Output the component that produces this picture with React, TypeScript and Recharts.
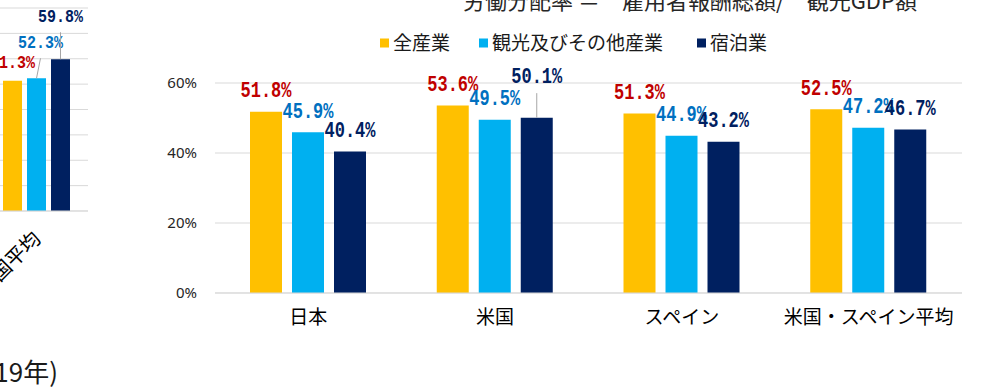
import { BarChart, Bar, XAxis, YAxis, CartesianGrid, LabelList } from 'recharts'

// main chart: labour share by region
const regions = ['日本', '米国', 'スペイン', '米国・スペイン平均']
const allIndustry = [51.8, 53.6, 51.3, 52.5]
const tourism = [45.9, 49.5, 44.9, 47.2]
const lodging = [40.4, 50.1, 43.2, 46.7]
const mainTicks = [0, 20, 40, 60]

// left chart (cut off by the page edge, only its last group is visible)
const leftRegions = ['主要国平均']
const leftAllIndustry = [51.3]
const leftTourism = [52.3]
const leftLodging = [59.8]
const leftTicks = [0, 10, 20, 30, 40, 50, 60, 70, 80]

const seriesNames = ['全産業', '観光及びその他産業', '宿泊業']
const title = '労働分配率 ＝　雇用者報酬総額/　観光GDP額'
const yearNote = '(2019年)'

const barColors = ['#FFC000', '#00B0F0', '#002060']
const labelColors = ['#C00000', '#0070C0', '#002060']
const gridColor = '#D9D9D9'
const jpFont = '"Noto Sans CJK JP", "Noto Sans", sans-serif'

type LabelStyle = {
  color: string
  fontSize: number
  textWidth: number
  gap: number
  lift?: number[]
  shift?: number[]
}

const valueLabel = (s: LabelStyle) => (props: any) => {
  const { x, y, width, value, index } = props
  const cx = Number(x) + Number(width) / 2
  const lift = s.lift?.[index] ?? 0
  const tx = cx + (s.shift?.[index] ?? 0)
  const base = Number(y) - s.gap - lift
  return (
    <g>
      {lift > 0 && (
        <line x1={tx} y1={base + 10} x2={cx} y2={Number(y)} stroke="#A6A6A6" strokeWidth={1} />
      )}
      <text
        x={tx}
        y={base}
        textAnchor="middle"
        fill={s.color}
        fontSize={s.fontSize}
        fontFamily='"Liberation Mono", monospace'
        fontWeight="bold"
        textLength={s.textWidth}
        lengthAdjust="spacingAndGlyphs"
      >
        {`${Number(value).toFixed(1)}%`}
      </text>
    </g>
  )
}

const RotatedTick = (props: any) => {
  const { x, y, payload } = props
  return (
    <g transform={`translate(${x + 6},${y})`}>
      <text textAnchor="end" transform="rotate(-45)" fontSize={20} fontFamily={jpFont} fill="#000">
        {payload.value}
      </text>
    </g>
  )
}

export default function App() {
  const mainData = regions.map((name, i) => ({
    name,
    all: allIndustry[i],
    tourism: tourism[i],
    lodging: lodging[i],
  }))
  const leftData = leftRegions.map((name, i) => ({
    name,
    all: leftAllIndustry[i],
    tourism: leftTourism[i],
    lodging: leftLodging[i],
  }))
  const keys = ['all', 'tourism', 'lodging']

  const mainLabels: LabelStyle[] = [
    { color: labelColors[0], fontSize: 22, textWidth: 51, gap: 14.5 },
    { color: labelColors[1], fontSize: 22, textWidth: 51, gap: 14.5 },
    { color: labelColors[2], fontSize: 22, textWidth: 51, gap: 14.5, lift: [0, 20, 0, 0] },
  ]
  const leftLabels: LabelStyle[] = [
    { color: labelColors[0], fontSize: 19, textWidth: 45, gap: 13 },
    { color: labelColors[1], fontSize: 19, textWidth: 45, gap: 13, lift: [17], shift: [4] },
    { color: labelColors[2], fontSize: 19, textWidth: 45, gap: 13, lift: [24] },
  ]

  const legendX = [380, 479, 697]

  return (
    <div
      style={{
        position: 'absolute',
        left: 0,
        top: 0,
        width: 1002,
        height: 390,
        overflow: 'hidden',
        background: '#fff',
      }}
    >
      <svg width={1002} height={390} style={{ position: 'absolute', left: 0, top: 0 }}>
        <text x={690} y={9} textAnchor="middle" fontSize={22} fontFamily={jpFont} fill="#262626">
          {title}
        </text>
        {seriesNames.map((n, i) => (
          <g key={n}>
            <rect x={legendX[i]} y={38.5} width={9} height={9} fill={barColors[i]} />
            <text x={legendX[i] + 13} y={50} fontSize={19} fontFamily={jpFont} fill="#1a1a1a">
              {n}
            </text>
          </g>
        ))}
        <text x={58} y={382} textAnchor="end" fontSize={26} fontFamily={jpFont} fill="#1a1a1a">
          {yearNote}
        </text>
      </svg>

      <div style={{ position: 'absolute', left: -16, top: 0 }}>
        <BarChart
          width={104}
          height={291}
          data={leftData}
          margin={{ top: 8, right: 0, left: 0, bottom: 0 }}
          barSize={19}
          barGap={5}
          style={{ overflow: 'visible' }}
        >
          <CartesianGrid vertical={false} stroke={gridColor} />
          <XAxis
            dataKey="name"
            axisLine={{ stroke: gridColor }}
            tickLine={false}
            tickSize={0}
            tickMargin={29}
            height={80}
            interval={0}
            tick={<RotatedTick />}
          />
          <YAxis hide domain={[0, 80]} ticks={leftTicks} />
          {keys.map((k, i) => (
            <Bar key={k} dataKey={k} fill={barColors[i]} isAnimationActive={false}>
              <LabelList dataKey={k} content={valueLabel(leftLabels[i])} />
            </Bar>
          ))}
        </BarChart>
      </div>

      <div style={{ position: 'absolute', left: 140, top: 30 }}>
        <BarChart
          width={840}
          height={303}
          data={mainData}
          margin={{ top: 53, right: 18, left: 0, bottom: 0 }}
          barSize={32}
          barGap={10}
          style={{ overflow: 'visible' }}
        >
          <CartesianGrid vertical={false} stroke={gridColor} />
          <XAxis
            dataKey="name"
            axisLine={{ stroke: gridColor }}
            tickLine={false}
            tickSize={0}
            tickMargin={18}
            height={40}
            interval={0}
            tick={{ fill: '#000', fontSize: 19, fontFamily: jpFont }}
          />
          <YAxis
            domain={[0, 60]}
            ticks={mainTicks}
            tickFormatter={(v: number) => `${v}%`}
            axisLine={false}
            tickLine={false}
            tickSize={0}
            tickMargin={18}
            width={75}
            tick={{ fill: '#262626', fontSize: 15, fontFamily: '"Noto Sans", sans-serif' }}
          />
          {keys.map((k, i) => (
            <Bar key={k} dataKey={k} fill={barColors[i]} isAnimationActive={false}>
              <LabelList dataKey={k} content={valueLabel(mainLabels[i])} />
            </Bar>
          ))}
        </BarChart>
      </div>
    </div>
  )
}
